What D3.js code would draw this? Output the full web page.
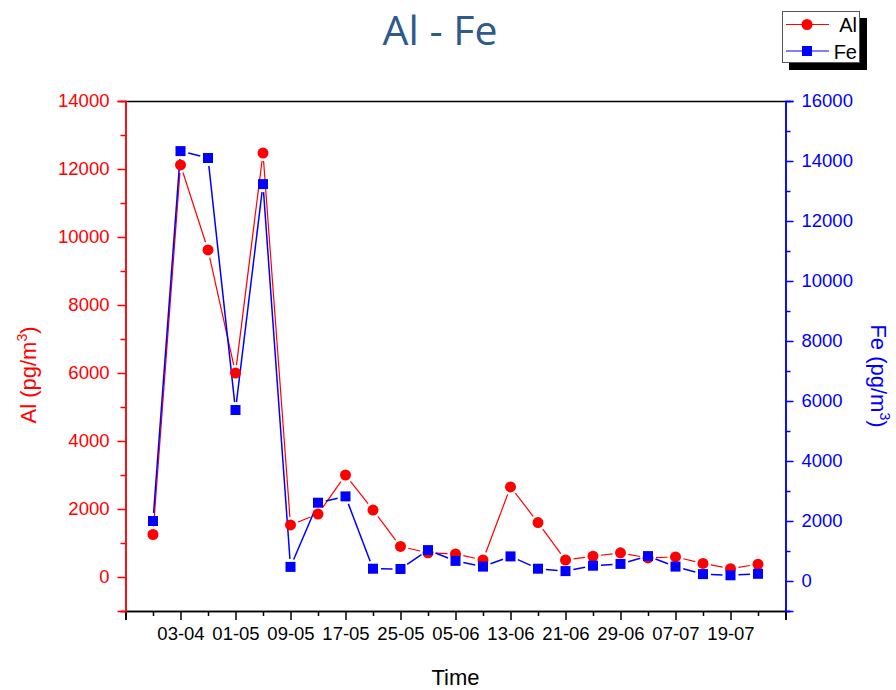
<!DOCTYPE html>
<html lang="en">
  <head>
    <title>Al - Fe</title>
    <script src="https://d3js.org/d3.v7.min.js"></script>
    <style>
      body { margin: 0; background: #fff; }
      text { font-family: 'Liberation Sans', Arial, sans-serif; }
    </style>
  </head>
  <body>
    <div id='chart'></div>
    <script type='text/javascript'>
      // one sample every 4 days, x position = sample number (1..23)
      let xTickLabels = ['', '03-04', '01-05', '09-05', '17-05', '25-05', '05-06',
                         '13-06', '21-06', '29-06', '07-07', '19-07', '']
      let alValues = [1250, 12120, 9620, 6000, 12470, 1530, 1850, 3000, 1970, 900, 710,
                      680, 500, 2650, 1600, 500, 610, 710, 560, 590, 400, 245, 375]
      let feValues = [2000, 14330, 14100, 5700, 13230, 470, 2610, 2820, 410, 400, 1030,
                      670, 480, 820, 410, 330, 510, 570, 830, 480, 230, 190, 240]

      let width = 896, height = 690
      let margin = {top: 101, right: 110.5, bottom: 79, left: 125.5}

      let svg = d3.select('#chart').append('svg')
        .attr('width', width)
        .attr('height', height)

      let x = d3.scaleLinear().domain([0, 24]).range([margin.left, width - margin.right])
      let yAl = d3.scaleLinear().domain([-1000, 14000]).range([height - margin.bottom, margin.top])
      let yFe = d3.scaleLinear().domain([-1000, 16000]).range([height - margin.bottom, margin.top])

      let x0 = margin.left, x1 = width - margin.right
      let y0 = height - margin.bottom, y1 = margin.top

      // top frame line
      svg.append('line')
        .attr('x1', x0).attr('x2', x1).attr('y1', y1 + 0.5).attr('y2', y1 + 0.5)
        .attr('stroke', '#000').attr('stroke-width', 1.5)

      // bottom axis
      let bottomMinor = svg.append('g')
        .attr('transform', 'translate(0,' + y0 + ')')
        .call(d3.axisBottom(x).tickValues(d3.range(1, 24, 2)).tickSize(5).tickFormat(''))
      let bottom = svg.append('g')
        .attr('transform', 'translate(0,' + y0 + ')')
        .call(d3.axisBottom(x).tickValues(d3.range(0, 25, 2)).tickSize(9).tickPadding(7)
          .tickFormat((d, i) => xTickLabels[i]))
      bottom.selectAll('text').attr('font-size', 18.5).attr('fill', '#000')
      svg.selectAll('g path, g line').attr('stroke-width', 1.5)

      // left axis (Al)
      let leftMinor = svg.append('g')
        .attr('transform', 'translate(' + x0 + ',0)')
        .call(d3.axisLeft(yAl).tickValues(d3.range(-1000, 14000, 2000)).tickSize(5).tickFormat(''))
      let left = svg.append('g')
        .attr('transform', 'translate(' + x0 + ',0)')
        .call(d3.axisLeft(yAl).tickValues(d3.range(0, 14001, 2000)).tickSize(8).tickPadding(8)
          .tickFormat(d3.format('d')))
      left.selectAll('text').attr('font-size', 18.5).attr('fill', 'red')
      ;[leftMinor, left].forEach(g => g.selectAll('path, line').attr('stroke', 'red').attr('stroke-width', 1.5))

      // right axis (Fe)
      let rightMinor = svg.append('g')
        .attr('transform', 'translate(' + x1 + ',0)')
        .call(d3.axisRight(yFe).tickValues(d3.range(-1000, 16000, 2000)).tickSize(5).tickFormat(''))
      let right = svg.append('g')
        .attr('transform', 'translate(' + x1 + ',0)')
        .call(d3.axisRight(yFe).tickValues(d3.range(0, 16001, 2000)).tickSize(8).tickPadding(8)
          .tickFormat(d3.format('d')))
      right.selectAll('text').attr('font-size', 18.5).attr('fill', 'blue')
      ;[rightMinor, right].forEach(g => g.selectAll('path, line').attr('stroke', 'blue').attr('stroke-width', 1.5))

      ;[bottomMinor, bottom].forEach(g => g.selectAll('path, line').attr('stroke', '#000').attr('stroke-width', 1.5))

      // axis titles
      let alTitle = svg.append('text')
        .attr('transform', 'translate(36,375) rotate(-90)')
        .attr('text-anchor', 'middle')
        .attr('font-size', 22).attr('fill', 'red')
      alTitle.append('tspan').text('Al (pg/m')
      alTitle.append('tspan').attr('font-size', 14).attr('dy', -9).text('3')
      alTitle.append('tspan').attr('dy', 9).text(')')

      let feTitle = svg.append('text')
        .attr('transform', 'translate(871,376) rotate(90)')
        .attr('text-anchor', 'middle')
        .attr('font-size', 22).attr('fill', 'blue')
      feTitle.append('tspan').text('Fe (pg/m')
      feTitle.append('tspan').attr('font-size', 14).attr('dy', -9).text('3')
      feTitle.append('tspan').attr('dy', 9).text(')')

      svg.append('text')
        .attr('x', (x0 + x1) / 2).attr('y', 685)
        .attr('text-anchor', 'middle')
        .attr('font-size', 22).attr('fill', '#000')
        .text('Time')

      svg.append('text')
        .attr('x', 440).attr('y', 45)
        .attr('text-anchor', 'middle')
        .style('font-family', "'Open Sans', 'Noto Sans', sans-serif")
        .attr('font-size', 41).attr('fill', '#2f5a8a')
        .text('Al - Fe')

      // lines with gaps round the markers
      function drawSeries(values, y, color, lw) {
        let pts = values.map((v, i) => [x(i + 1), y(v)])
        let gap = 8
        let segs = []
        for (let i = 1; i < pts.length; i++) {
          let [ax, ay] = pts[i - 1], [bx, by] = pts[i]
          let len = Math.hypot(bx - ax, by - ay)
          if (len <= 2 * gap) continue
          let ux = (bx - ax) / len, uy = (by - ay) / len
          segs.push([ax + ux * gap, ay + uy * gap, bx - ux * gap, by - uy * gap])
        }
        svg.append('g').selectAll('line')
          .data(segs)
          .enter().append('line')
          .attr('x1', d => d[0]).attr('y1', d => d[1])
          .attr('x2', d => d[2]).attr('y2', d => d[3])
          .attr('stroke', color).attr('stroke-width', lw)
        return pts
      }

      let alPts = drawSeries(alValues, yAl, 'red', 1.2)
      let fePts = drawSeries(feValues, yFe, 'blue', 1.5)

      svg.append('g').selectAll('circle')
        .data(alPts)
        .enter().append('circle')
        .attr('cx', d => d[0]).attr('cy', d => d[1])
        .attr('r', 5.5).attr('fill', 'red')

      svg.append('g').selectAll('rect')
        .data(fePts)
        .enter().append('rect')
        .attr('x', d => d[0] - 5).attr('y', d => d[1] - 5)
        .attr('width', 10).attr('height', 10).attr('fill', 'blue')

      // legend
      let legend = svg.append('g')
      legend.append('rect')
        .attr('x', 789).attr('y', 18).attr('width', 78).attr('height', 52).attr('fill', '#000')
      legend.append('rect')
        .attr('x', 782.5).attr('y', 11.5).attr('width', 77).attr('height', 51)
        .attr('fill', '#fff').attr('stroke', '#555').attr('stroke-width', 1)
      let items = [{name: 'Al', color: 'red', y: 24.5}, {name: 'Fe', color: 'blue', y: 51}]
      items.forEach(it => {
        legend.append('line')
          .attr('x1', 786).attr('x2', 829).attr('y1', it.y).attr('y2', it.y)
          .attr('stroke', it.color).attr('stroke-width', 1.2)
        if (it.name == 'Al')
          legend.append('circle').attr('cx', 807).attr('cy', it.y).attr('r', 5.5).attr('fill', it.color)
        else
          legend.append('rect').attr('x', 802).attr('y', it.y - 5).attr('width', 10).attr('height', 10).attr('fill', it.color)
        legend.append('text')
          .attr('x', 857).attr('y', it.y + 7.5)
          .attr('text-anchor', 'end')
          .attr('font-size', 20).attr('fill', '#000')
          .text(it.name)
      })
    </script>
  </body>
</html>
